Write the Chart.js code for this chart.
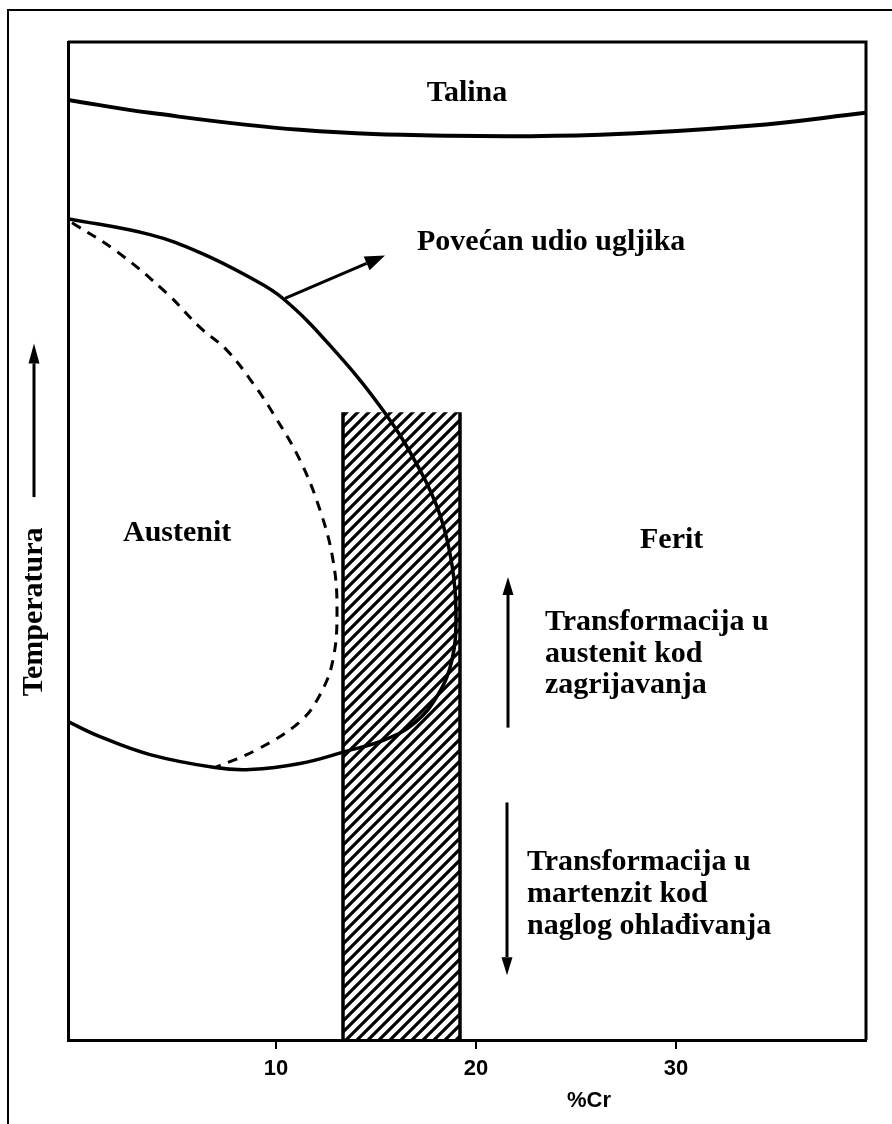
<!DOCTYPE html>
<html>
<head>
<meta charset="utf-8">
<script src="https://cdn.jsdelivr.net/npm/chart.js@4.4.1/dist/chart.umd.min.js"></script>
<style>
  html, body { margin: 0; background: #fff; }
  #wrap { position: relative; width: 892px; height: 1124px; }
</style>
</head>
<body>
<div id="wrap"><canvas id="phase"></canvas></div>
<script>
// %Cr on x, temperature (arbitrary 0-100) on y
const crTicks = [10, 20, 30];

const liquidusCr = [-0.4, 3.7, 11.2, 18.7, 26.2, 33.7, 39.5];
const liquidusT = [94.2, 92.9, 91.2, 90.6, 90.7, 91.6, 92.9];

const loopCr = [-0.4, 3.7, 6.2, 8.7, 10.35, 12.7, 15.35, 17.2, 18.2, 18.8, 19.0, 18.8, 18.1, 16.95, 15.45, 13.45, 11.2, 8.7, 6.95, 3.7, 1.2, -0.4];
const loopT = [82.3, 80.7, 78.9, 76.4, 74.3, 69.6, 63.1, 57.1, 52.6, 47.6, 42.6, 38.1, 34.6, 31.8, 30.1, 28.9, 27.7, 27.1, 27.3, 28.6, 30.4, 31.9];

const loopHighCCr = [-0.2, 2.05, 4.55, 6.2, 7.55, 8.85, 9.85, 11.2, 12.2, 12.85, 13.05, 12.85, 12.2, 11.2, 9.05, 6.95];
const loopHighCT = [81.9, 79.0, 74.8, 71.4, 69.1, 65.8, 62.8, 58.1, 53.1, 48.1, 43.1, 38.1, 34.6, 31.9, 29.1, 27.3];

const bandCr = [13.35, 13.35, 19.2, 19.2];
const bandT = [0, 62.9, 62.9, 0];

const pts = (xs, ys) => xs.map((x, i) => ({ x: x, y: ys[i] }));

// annotations, in data units
const arrows = [
  { from: [10.45, 74.3], to: [15.45, 78.6], head: 20, wide: 15 },
  { from: [21.6, 31.3], to: [21.6, 46.4], head: 18, wide: 11 },
  { from: [21.55, 23.8], to: [21.55, 6.5], head: 18, wide: 11 },
  { from: [-2.1, 54.4], to: [-2.1, 69.8], head: 20, wide: 11 },
];
const notes = [
  { text: "Talina", at: [19.55, 94.9], align: "center" },
  { text: "Povećan udio ugljika", at: [17.05, 79.9], align: "left" },
  { text: "Austenit", at: [2.35, 50.8], align: "left" },
  { text: "Ferit", at: [28.2, 50.1], align: "left" },
  { text: "Transformacija u", at: [23.45, 41.9], align: "left" },
  { text: "austenit kod", at: [23.45, 38.7], align: "left" },
  { text: "zagrijavanja", at: [23.45, 35.5], align: "left" },
  { text: "Transformacija u", at: [22.55, 17.8], align: "left" },
  { text: "martenzit kod", at: [22.55, 14.6], align: "left" },
  { text: "naglog ohlađivanja", at: [22.55, 11.4], align: "left" },
];

function hatch() {
  const s = 11;
  const c = document.createElement("canvas");
  c.width = s; c.height = s;
  const g = c.getContext("2d");
  g.strokeStyle = "#000";
  g.lineWidth = 3.2;
  g.beginPath();
  g.moveTo(0, s); g.lineTo(s, 0);
  g.moveTo(-2, 2); g.lineTo(2, -2);
  g.moveTo(s - 2, s + 2); g.lineTo(s + 2, s - 2);
  g.stroke();
  return g.createPattern(c, "repeat");
}

const decor = {
  id: "decor",
  beforeDraw(chart) {
    const ctx = chart.ctx;
    ctx.save();
    ctx.strokeStyle = "#000";
    ctx.lineWidth = 2;
    ctx.beginPath();
    ctx.moveTo(8, 1124);
    ctx.lineTo(8, 10);
    ctx.lineTo(892, 10);
    ctx.stroke();
    ctx.restore();
  },
  afterDatasetsDraw(chart) {
    const { ctx, chartArea: a, scales } = chart;
    const px = (p) => [scales.x.getPixelForValue(p[0]), scales.y.getPixelForValue(p[1])];
    ctx.save();
    ctx.strokeStyle = "#000";
    ctx.fillStyle = "#000";
    ctx.lineWidth = 3;
    ctx.beginPath();
    ctx.moveTo(a.left, a.top);
    ctx.lineTo(a.right, a.top);
    ctx.lineTo(a.right, a.bottom);
    ctx.stroke();

    arrows.forEach((ar) => {
      const [x0, y0] = px(ar.from);
      const [x1, y1] = px(ar.to);
      const ang = Math.atan2(y1 - y0, x1 - x0);
      const bx = x1 - Math.cos(ang) * ar.head;
      const by = y1 - Math.sin(ang) * ar.head;
      ctx.lineWidth = 3;
      ctx.beginPath();
      ctx.moveTo(x0, y0);
      ctx.lineTo(bx, by);
      ctx.stroke();
      const nx = -Math.sin(ang) * ar.wide / 2;
      const ny = Math.cos(ang) * ar.wide / 2;
      ctx.beginPath();
      ctx.moveTo(x1, y1);
      ctx.lineTo(bx + nx, by + ny);
      ctx.lineTo(bx - nx, by - ny);
      ctx.closePath();
      ctx.fill();
    });

    ctx.font = "bold 30px 'Liberation Serif', 'Times New Roman', serif";
    ctx.textBaseline = "middle";
    notes.forEach((n) => {
      const [x, y] = px(n.at);
      ctx.textAlign = n.align;
      ctx.fillText(n.text, x, y);
    });

    // axis titles
    const [tx, ty] = px([-2.1, 42.9]);
    ctx.save();
    ctx.translate(tx, ty);
    ctx.rotate(-Math.PI / 2);
    ctx.textAlign = "center";
    ctx.fillText("Temperatura", 0, 0);
    ctx.restore();

    const [cx, cy] = px([25.65, -6.1]);
    ctx.font = "bold 22px 'Liberation Sans', Arial, sans-serif";
    ctx.textAlign = "center";
    ctx.fillText("%Cr", cx, cy);
    ctx.restore();
  },
};

new Chart(document.getElementById("phase"), {
  type: "scatter",
  data: {
    datasets: [
      {
        label: "Talina",
        data: pts(liquidusCr, liquidusT),
        showLine: true,
        borderColor: "#000",
        borderWidth: 4,
        tension: 0.4,
        pointRadius: 0,
        order: 1,
      },
      {
        label: "gama petlja",
        data: pts(loopCr, loopT),
        showLine: true,
        borderColor: "#000",
        borderWidth: 3.5,
        tension: 0.4,
        pointRadius: 0,
        order: 1,
      },
      {
        label: "gama petlja, vise C",
        data: pts(loopHighCCr, loopHighCT),
        showLine: true,
        borderColor: "#000",
        borderWidth: 3,
        borderDash: [10, 8],
        tension: 0.4,
        pointRadius: 0,
        order: 2,
      },
      {
        label: "podrucje",
        data: pts(bandCr, bandT),
        showLine: true,
        borderColor: "#000",
        borderWidth: 3.5,
        backgroundColor: hatch(),
        fill: "origin",
        tension: 0,
        pointRadius: 0,
        order: 10,
        segment: {
          borderColor: (c) => (c.p0DataIndex === 1 ? "rgba(0,0,0,0)" : "#000"),
        },
      },
    ],
  },
  options: {
    responsive: true,
    maintainAspectRatio: false,
    animation: false,
    layout: { padding: { top: 42, right: 26, left: 0, bottom: 0 } },
    plugins: { legend: { display: false }, tooltip: { enabled: false } },
    scales: {
      x: {
        type: "linear",
        min: -0.4,
        max: 39.5,
        afterBuildTicks: (s) => { s.ticks = crTicks.map((v) => ({ value: v })); },
        afterFit: (s) => { s.height = 84; },
        ticks: {
          color: "#000",
          padding: 7,
          font: { family: "'Liberation Sans', Arial, sans-serif", size: 22, weight: "bold" },
        },
        grid: { drawOnChartArea: false, drawTicks: true, tickLength: 9, color: "#000", lineWidth: 2 },
        border: { color: "#000", width: 3 },
      },
      y: {
        min: 0,
        max: 100,
        afterFit: (s) => { s.width = 68; },
        ticks: { display: false },
        grid: { display: false },
        border: { color: "#000", width: 3 },
      },
    },
  },
  plugins: [decor],
});
</script>
</body>
</html>
